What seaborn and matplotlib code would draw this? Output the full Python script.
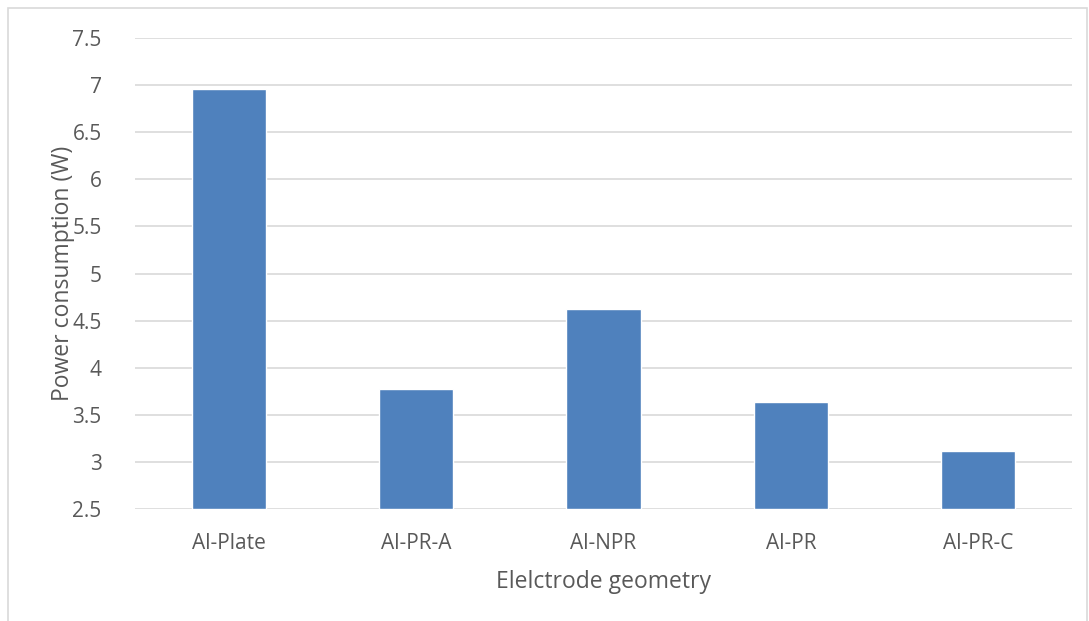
import matplotlib
matplotlib.use("Agg")
import matplotlib.pyplot as plt
import seaborn as sns
import pandas as pd
from matplotlib.patches import Rectangle

# Power consumption per electrode geometry
geometries = ["Al-Plate", "Al-PR-A", "Al-NPR", "Al-PR", "Al-PR-C"]
power_w = [6.96, 3.77, 4.62, 3.64, 3.12]
y_ticks = [2.5, 3, 3.5, 4, 4.5, 5, 5.5, 6, 6.5, 7, 7.5]
y_tick_labels = ["2.5", "3", "3.5", "4", "4.5", "5", "5.5", "6", "6.5", "7", "7.5"]

sns.set_theme(style="white")
plt.rcParams["font.family"] = ["Open Sans", "DejaVu Sans"]

W, H = 1089, 621
fig = plt.figure(figsize=(W / 100, H / 100), dpi=100)
ax = fig.add_axes([135 / W, 1 - 509 / H, (1072 - 135) / W, (509 - 38) / H])

# Chart area border
fig.patches.append(Rectangle((8 / W, -0.1), (1087 - 8) / W, 1 - 8 / H + 0.1,
                             transform=fig.transFigure, fill=False,
                             edgecolor="#d9d9d9", linewidth=1.2))

df = pd.DataFrame({"geometry": geometries, "power": power_w})
baseline = 2.5
sns.barplot(data=df, x="geometry", y=[p - baseline for p in power_w],
            bottom=baseline, color="#4F81BD", saturation=1, width=0.395,
            ax=ax, zorder=3)

ax.set_ylim(2.5, 7.5)
ax.set_xlim(-0.5, len(geometries) - 0.5)
ax.set_yticks(y_ticks)
ax.set_yticklabels(y_tick_labels)
ax.yaxis.grid(True, color="#d9d9d9", linewidth=1.2, zorder=0)
ax.set_axisbelow(True)
for s in ax.spines.values():
    s.set_visible(False)
ax.tick_params(axis="both", length=0, labelsize=15, colors="#595959")
ax.tick_params(axis="y", pad=24)
ax.tick_params(axis="x", pad=17)

ax.set_xlabel("Elelctrode geometry", fontsize=16.5, color="#595959", labelpad=12)
ax.set_ylabel("Power consumption (W)", fontsize=16.5, color="#595959", labelpad=-2)

fig.savefig("out.png", dpi=100)
